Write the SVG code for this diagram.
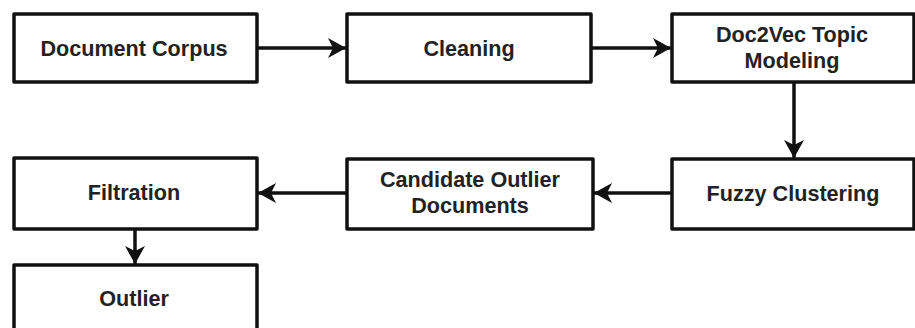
<svg xmlns="http://www.w3.org/2000/svg" width="915" height="328" viewBox="0 0 915 328">
  <defs>
    <marker id="arr" viewBox="0 0 20 22" refX="18" refY="11" markerWidth="20" markerHeight="22" markerUnits="userSpaceOnUse" orient="auto">
      <path d="M0,1 L18,11 L0,21 L5,11 Z" fill="#111"/>
    </marker>
    <style>
      .box { fill: #fff; stroke: #111; stroke-width: 3.5; stroke-linejoin: round; }
      .lbl { font-family: "Liberation Sans", Arial, sans-serif; font-weight: bold; font-size: 21.6px; fill: #222; text-anchor: middle; }
      .edge { stroke: #111; stroke-width: 3.5; fill: none; }
    </style>
  </defs>
  <rect width="915" height="328" fill="#fff"/>
  <g id="connectors">
    <line class="edge" x1="257" y1="48" x2="346" y2="48" marker-end="url(#arr)"/>
    <line class="edge" x1="591" y1="48" x2="671" y2="48" marker-end="url(#arr)"/>
    <line class="edge" x1="794" y1="83" x2="794" y2="158" marker-end="url(#arr)"/>
    <line class="edge" x1="672" y1="193" x2="594" y2="193" marker-end="url(#arr)"/>
    <line class="edge" x1="347" y1="193" x2="258" y2="193" marker-end="url(#arr)"/>
    <line class="edge" x1="135" y1="229" x2="135" y2="264" marker-end="url(#arr)"/>
  </g>
  <g id="document-corpus">
    <rect class="box" x="14" y="14" width="243" height="68"/>
    <text class="lbl" x="134" y="55.5">Document Corpus</text>
  </g>
  <g id="cleaning">
    <rect class="box" x="347" y="14" width="244" height="68"/>
    <text class="lbl" x="469" y="55.5">Cleaning</text>
  </g>
  <g id="doc2vec">
    <rect class="box" x="672" y="14" width="242" height="68"/>
    <text class="lbl" x="792" y="42">Doc2Vec Topic</text>
    <text class="lbl" x="792" y="68">Modeling</text>
  </g>
  <g id="fuzzy-clustering">
    <rect class="box" x="672" y="159" width="242" height="70"/>
    <text class="lbl" x="793" y="201">Fuzzy Clustering</text>
  </g>
  <g id="candidate-outlier">
    <rect class="box" x="347" y="159" width="246" height="70"/>
    <text class="lbl" x="470" y="187">Candidate Outlier</text>
    <text class="lbl" x="470" y="213">Documents</text>
  </g>
  <g id="filtration">
    <rect class="box" x="14" y="158" width="243" height="71"/>
    <text class="lbl" x="134" y="200">Filtration</text>
  </g>
  <g id="outlier">
    <rect class="box" x="14" y="265" width="243" height="70"/>
    <text class="lbl" x="134" y="306">Outlier</text>
  </g>
</svg>
